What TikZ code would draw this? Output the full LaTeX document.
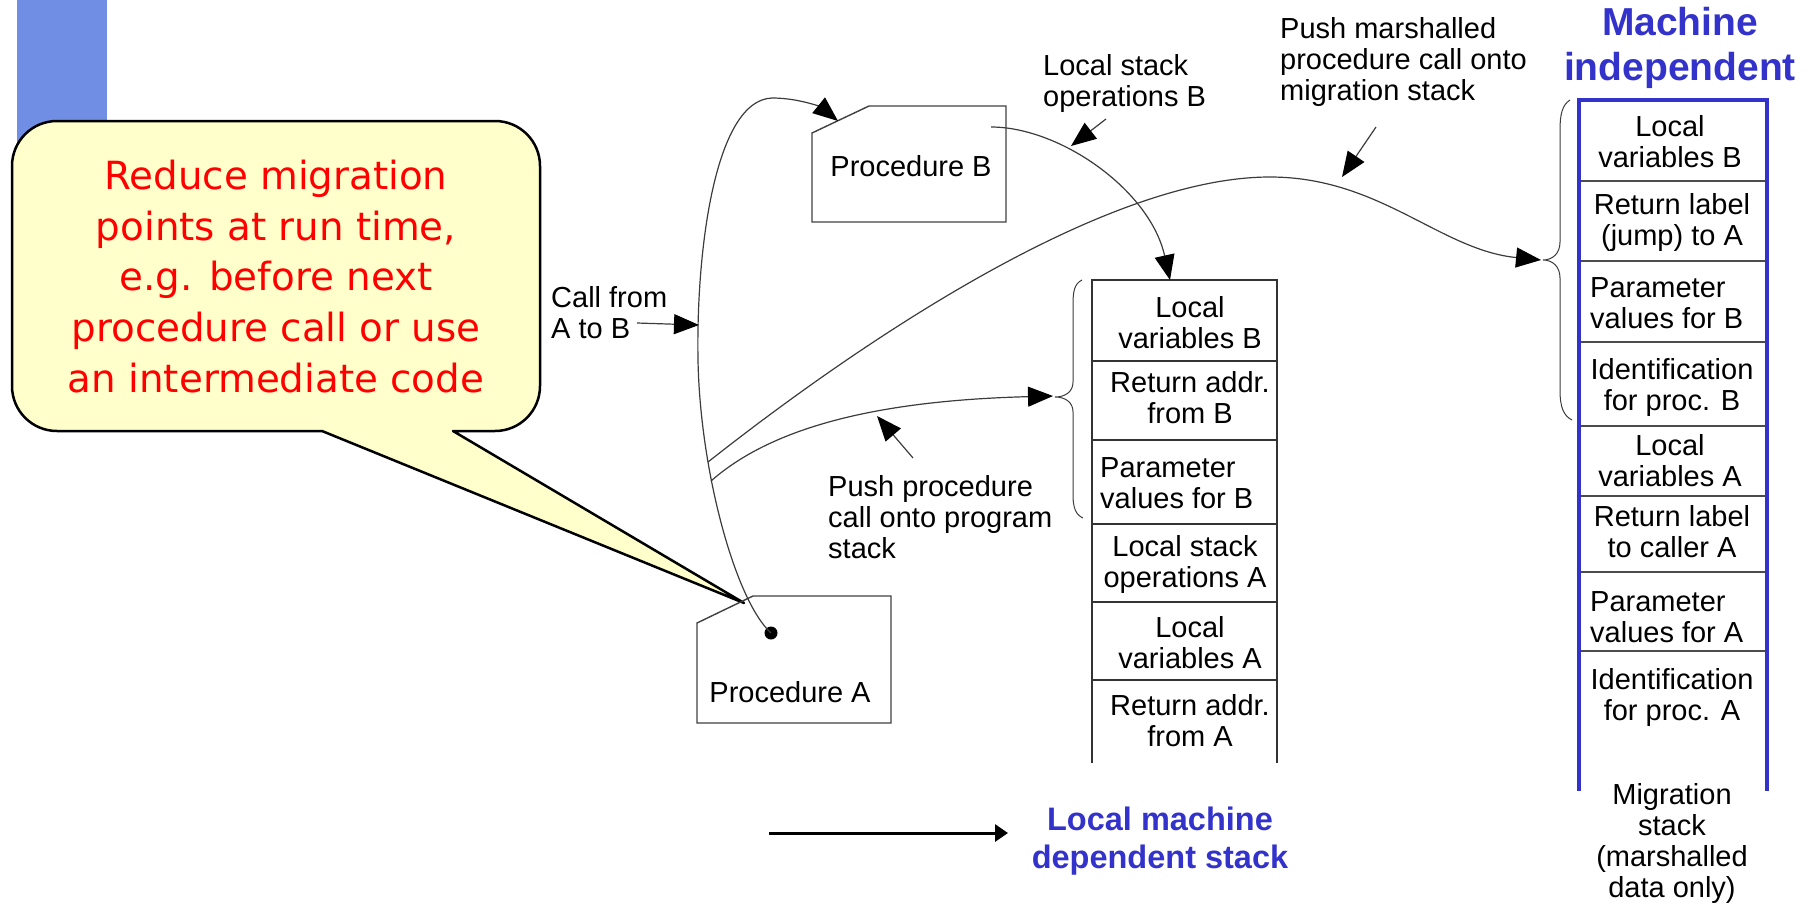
\documentclass[tikz,border=0pt]{standalone}
\usepackage{fontspec}
\setmainfont{Liberation Sans}
\newfontfamily\notefont{DejaVu Sans}
\usetikzlibrary{arrows.meta}

\definecolor{barblue}{RGB}{112,142,228}
\definecolor{headblue}{RGB}{51,51,204}
\definecolor{noteyellow}{RGB}{255,255,204}
\definecolor{notered}{RGB}{255,0,0}
\definecolor{wirecol}{RGB}{60,60,60}

\begin{document}
\begin{tikzpicture}[x=1pt,y=-1pt,
  wire/.style={draw=wirecol,line width=1.2pt},
  arr/.style={wire,-{Triangle[length=25pt,width=20pt,color=black]}},
  boxline/.style={draw=black!75,line width=1.4pt,line join=miter},
  stk/.style={draw=black!80,line width=1.4pt},
  lbl/.style={font=\fontsize{29}{31}\selectfont,inner sep=0pt},
  lblL/.style={lbl,align=left,anchor=west},
  lblC/.style={lbl,align=center},
  head/.style={font=\bfseries\fontsize{39}{45}\selectfont,text=headblue,align=center,inner sep=0pt},
  subhead/.style={font=\bfseries\fontsize{32.5}{38}\selectfont,text=headblue,align=center,inner sep=0pt},
  note/.style={font=\notefont\fontsize{38.8}{50.75}\selectfont,text=notered,align=center,inner sep=0pt},
]
\useasboundingbox (0,0) rectangle (1812,905);

% side bar
\fill[barblue] (17,0) rectangle (107,150);

% speech-bubble note pointing at procedure A
\coordinate (noteTip) at (744,603);
\filldraw[fill=noteyellow,draw=black,line width=2.5pt,line join=round]
  (322,431) -- (57,431) .. controls (32.1,431) and (12,410.9) .. (12,386)
  -- (12,166) .. controls (12,141.1) and (32.1,121) .. (57,121)
  -- (495,121) .. controls (519.9,121) and (540,141.1) .. (540,166)
  -- (540,386) .. controls (540,410.9) and (519.9,431) .. (495,431)
  -- (453,431) -- (noteTip) -- cycle;
\node[note] (noteText) at (276,276.5)
  {Reduce migration\\points at run time,\\e.g. before next\\procedure call or use\\an intermediate code};

% procedure A
\draw[boxline] (697,623) -- (753,596) -- (891,596) -- (891,723) -- (697,723) -- cycle;
\node[lblC] (procA) at (790,692) {Procedure A};
\node[circle,fill=black,inner sep=0pt,minimum size=13pt] (dotA) at (771,633) {};

% procedure B
\draw[boxline] (812,133) -- (869,106) -- (1006,106) -- (1006,222) -- (812,222) -- cycle;
\node[lblC] (procB) at (911,166) {Procedure B};
\coordinate (bIn) at (838,121);
\coordinate (bOut) at (991,127);

% local (machine dependent) stack
\draw[stk] (1092,763) -- (1092,280) -- (1277,280) -- (1277,763);
\foreach \yy in {361,440,524,602,680}
  \draw[stk] (1092,\yy) -- (1277,\yy);
\coordinate (stkTop) at (1170,280);
\node[lblC] (ls1) at (1190,323) {Local\\variables B};
\node[lblC] (ls2) at (1190,398) {Return addr.\\from B};
\node[lblL] (ls3) at (1100,483) {Parameter\\values for B};
\node[lblC] (ls4) at (1185,564) {Local stack\\operations A};
\node[lblC] (ls5) at (1190,643) {Local\\variables A};
\node[lblC] (ls6) at (1190,721) {Return addr.\\from A};

% brace over the pushed frame of the local stack
\draw[wire,line width=1pt] (1082,280) .. controls (1074,284) and (1073,292) .. (1073,305)
  -- (1073,382) .. controls (1073,392) and (1065,397) .. (1055,397)
  .. controls (1065,397) and (1073,402) .. (1073,412)
  -- (1073,495) .. controls (1073,508) and (1076,515) .. (1083,518);
\coordinate (progTip) at (1053,396);

% migration stack
\foreach \yy in {181,261,342,426,496,572,651}
  \draw[draw=black!70,line width=1.6pt] (1579,\yy) -- (1767,\yy);
\draw[headblue,line width=3.2pt] (1579,791) -- (1579,100) -- (1767,100) -- (1767,791);
\node[lblC] (ms1) at (1670,142) {Local\\variables B};
\node[lblC] (ms2) at (1672,222) {Return label\\(jump) to A};
\node[lblL] (ms3) at (1590,303) {Parameter\\values for B};
\node[lblC] (ms4) at (1672,387) {Identification\\for proc. B};
\node[lblC] (ms5) at (1670,461) {Local\\variables A};
\node[lblC] (ms6) at (1672,532) {Return label\\to caller A};
\node[lblL] (ms7) at (1590,617) {Parameter\\values for A};
\node[lblC] (ms8) at (1672,697) {Identification\\for proc. A};
\node[lblC] (msCap) at (1672,843) {Migration\\stack\\(marshalled\\data only)};

% brace over the marshalled frame
\draw[wire,line width=1pt] (1570,100) .. controls (1562,105) and (1560,115) .. (1560,130)
  -- (1560,242) .. controls (1560,254) and (1552,260) .. (1543,260)
  .. controls (1552,260) and (1560,266) .. (1560,278)
  -- (1560,390) .. controls (1560,408) and (1564,416) .. (1572,420);
\coordinate (migTip) at (1541,260);

% headings
\node[head] (machInd) at (1680,47.5) {Machine\\independent};
\node[subhead] (locDep) at (1160,841) {Local machine\\dependent stack};

% call from A to B
\draw[arr] (dotA.center) .. controls (735,600) and (700,470) .. (698,360)
  .. controls (696,250) and (715,100) .. (772,98)
  .. controls (800,98) and (822,108) .. (bIn);
\coordinate (brU) at (708,462);
\coordinate (brL) at (711,481);

% push onto the migration stack
\draw[arr] (brU) .. controls (850,350) and (1100,177) .. (1270,177)
  .. controls (1380,177) and (1440,250) .. (migTip);
% push onto the program stack
\draw[arr] (brL) .. controls (780,420) and (900,400) .. (progTip);
% local stack operations of B
\draw[arr] (bOut) .. controls (1060,127) and (1150,190) .. (stkTop);

% annotations with pointers
\node[lblL] (callLbl) at (551,312.5) {Call from\\A to B};
\coordinate (callTail) at (637,323);
\coordinate (callHit) at (699,325);
\draw[arr] (callTail) -- (callHit);

\node[lblL] (opsLbl) at (1043,84) {Local stack\\operations B};
\coordinate (opsTail) at (1106,119);
\coordinate (opsHit) at (1071,146);
\draw[arr] (opsTail) -- (opsHit);

\node[lblL] (migLbl) at (1280,61.5) {Push marshalled\\procedure call onto\\migration stack};
\coordinate (migTail) at (1376,127);
\coordinate (migHit) at (1342,177);
\draw[arr] (migTail) -- (migHit);

\node[lblL] (progLbl) at (828,517.5) {Push procedure\\call onto program\\stack};
\coordinate (progTail) at (913,458);
\coordinate (progHit) at (877,416);
\draw[arr] (progTail) -- (progHit);

% legend arrow
\coordinate (legA) at (769,833);
\coordinate (legB) at (1008,833);
\draw[black,line width=3pt,-{Triangle[length=13pt,width=17pt]}] (legA) -- (legB);
\end{tikzpicture}
\end{document}
